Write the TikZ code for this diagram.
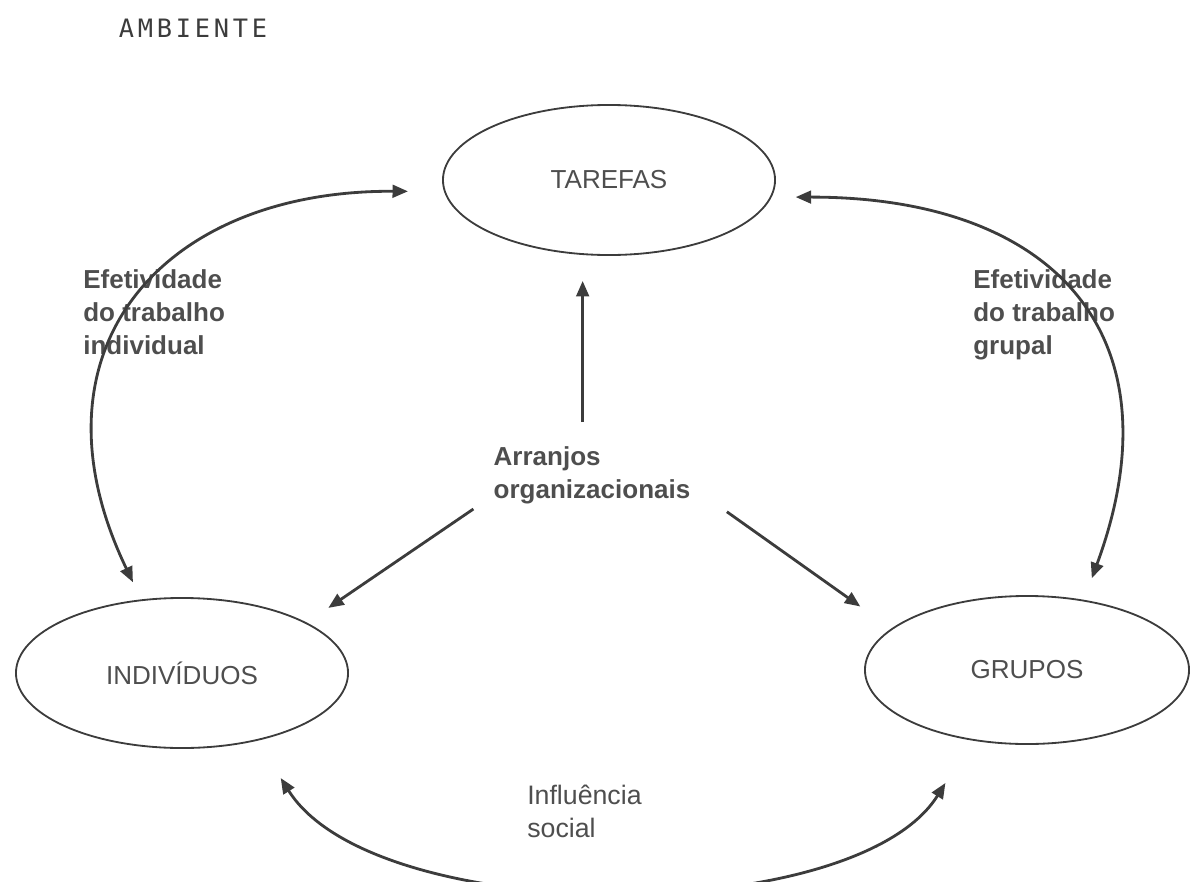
\documentclass[tikz,border=0pt]{standalone}
\usepackage{fontspec}
\setmainfont{Liberation Sans}
\newfontfamily\typewriter[LetterSpace=15]{DejaVu Sans Mono}
\usetikzlibrary{shapes.geometric,arrows.meta}

\definecolor{inkgray}{HTML}{4E4E4E}
\definecolor{linegray}{HTML}{3C3C3C}

\tikzstyle{oval} = [ellipse, draw=linegray, line width=1.3pt, inner sep=0pt, text=inkgray, font=\fontsize{18.5}{22}\selectfont]
\tikzstyle{tag} = [align=left, inner sep=0pt, text=inkgray, font=\bfseries\fontsize{18.5}{23.5}\selectfont]
\tikzstyle{link} = [draw=linegray, line width=2pt, ->]
\tikzstyle{twoway} = [draw=linegray, line width=2pt, <->]

\begin{document}
\begin{tikzpicture}[x=0.025cm, y=-0.025cm]
        \tikzset{>={Triangle[length=11pt,width=9pt]}}
        \useasboundingbox (0,0) rectangle (1192,882);
        % Environment title
        \node (ambiente) at (193,28) [text=linegray] {\typewriter\fontsize{18}{18}\selectfont AMBIENTE};
        % The three poles
        \node (tarefas) at (609,180) [oval, minimum width=8.3cm, minimum height=3.75cm] {TAREFAS};
        \node (individuos) at (182,673) [oval, minimum width=8.3cm, minimum height=3.75cm] {INDIVÍDUOS};
        \node (grupos) at (1027,670) [oval, minimum width=8.1cm, minimum height=3.7cm] {GRUPOS};
        % Labels
        \node (arranjos) at (592,475) [tag, inner xsep=0.5cm, inner ysep=0.6cm] {Arranjos\\organizacionais};
        \node (efind) at (83,312) [tag, anchor=west] {Efetividade\\do trabalho\\individual};
        \node (efgru) at (973,315) [tag, anchor=west] {Efetividade\\do trabalho\\grupal};
        \node (influencia) at (527,811) [tag, anchor=west, font=\mdseries\fontsize{19}{23.5}\selectfont] {Influência\\social};

        \draw[link, shorten >=0.625cm] (arranjos.100) -- (arranjos.100 |- tarefas.south);
        \draw[link, shorten >=0.65cm] (arranjos.196) -- (individuos.22);
        \draw[link, shorten <=0.5cm, shorten >=0.95cm] (arranjos.-12) -- (grupos.163);

        \draw[twoway, shorten <=0.475cm, shorten >=0.9cm] (individuos.119) .. controls (22,352) and (160,190) .. (tarefas.184);
        \draw[twoway, shorten <=0.6cm, shorten >=0.575cm] (tarefas.-6) .. controls (1055,197) and (1181,336) .. (grupos.51);
        \draw[twoway, shorten <=1.1cm, shorten >=1.25cm] (individuos.-42) .. controls (375,928) and (855,928) .. (grupos.-128);
\end{tikzpicture}
\end{document}
